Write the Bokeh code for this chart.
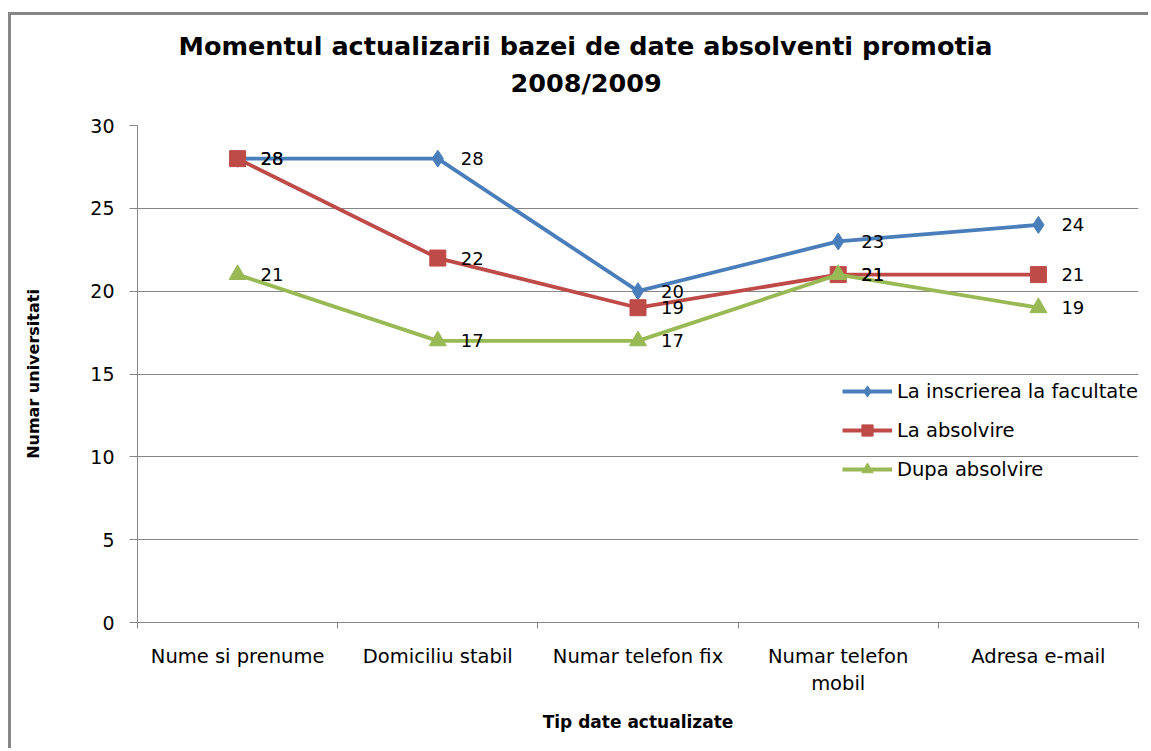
from bokeh.plotting import figure
from bokeh.models import FixedTicker, Title
from bokeh.core.properties import value
from bokeh.embed import file_html
from bokeh.resources import INLINE

categories = ["Nume si prenume", "Domiciliu stabil", "Numar telefon fix",
              "Numar telefon\nmobil", "Adresa e-mail"]
la_inscriere = [28, 28, 20, 23, 24]
la_absolvire = [28, 22, 19, 21, 21]
dupa_absolvire = [21, 17, 17, 21, 19]
series_names = ["La inscrierea la facultate", "La absolvire", "Dupa absolvire"]
y_ticks = [0, 5, 10, 15, 20, 25, 30]
title_lines = ["Momentul actualizarii bazei de date absolventi promotia", "2008/2009"]

xs = [i + 0.5 for i in range(len(categories))]
FONT = "DejaVu Sans"
GRAY = "#868686"

p = figure(width=1140, height=736, output_backend="svg", toolbar_location=None,
           x_range=(0, len(categories)), y_range=(0, 30),
           min_border_left=126, min_border_right=13, min_border_top=110,
           min_border_bottom=129, title=None)
p.styles = {"border-top": "3px solid #868686", "border-left": "3px solid #868686",
            "margin-top": "12px", "margin-left": "8px"}
p.outline_line_color = None
p.xgrid.grid_line_color = None
p.ygrid.grid_line_color = GRAY
p.ygrid.ticker = FixedTicker(ticks=y_ticks)

# x axis
p.xaxis.ticker = FixedTicker(ticks=xs, minor_ticks=list(range(len(categories) + 1)))
p.xaxis.major_label_overrides = {x: c for x, c in zip(xs, categories)}
p.xaxis.major_tick_line_color = None
p.xaxis.major_tick_out = 0
p.xaxis.major_tick_in = 0
p.xaxis.minor_tick_line_color = GRAY
p.xaxis.minor_tick_out = 6
p.xaxis.minor_tick_in = 0
p.xaxis.axis_line_color = GRAY
p.xaxis.major_label_standoff = 16
p.xaxis.major_label_text_font = FONT
p.xaxis.major_label_text_font_size = "19.5px"
p.xaxis.major_label_text_color = "black"
p.xaxis.axis_label = "Tip date actualizate"
p.xaxis.axis_label_text_font = FONT
p.xaxis.axis_label_text_font_style = "bold"
p.xaxis.axis_label_text_font_size = "17px"
p.xaxis.axis_label_text_color = "black"
p.xaxis.axis_label_standoff = 14

# y axis
p.yaxis.ticker = FixedTicker(ticks=y_ticks)
p.yaxis.minor_tick_line_color = None
p.yaxis.major_tick_line_color = GRAY
p.yaxis.major_tick_out = 8
p.yaxis.major_tick_in = 0
p.yaxis.axis_line_color = GRAY
p.yaxis.major_label_standoff = 15
p.yaxis.major_label_text_font = FONT
p.yaxis.major_label_text_font_size = "19px"
p.yaxis.major_label_text_color = "black"
p.yaxis.axis_label = "Numar universitati"
p.yaxis.axis_label_text_font = FONT
p.yaxis.axis_label_text_font_style = "bold"
p.yaxis.axis_label_text_font_size = "16px"
p.yaxis.axis_label_text_color = "black"
p.yaxis.axis_label_standoff = 44

colors = ["#4A7EBB", "#BE4B48", "#98B954"]
markers = ["diamond", "square", "triangle"]
sizes = [17, 16, 17]
data = [la_inscriere, la_absolvire, dupa_absolvire]

for vals, name, col, mk, sz in zip(data, series_names, colors, markers, sizes):
    p.line(xs, vals, line_color=col, line_width=3.8, legend_label=name)
    p.scatter(xs, vals, marker=mk, size=sz, fill_color=col, line_color=col,
              legend_label=name)

for vals in data:
    p.text(xs, vals, text=[str(v) for v in vals], x_offset=23,
           text_baseline="middle", text_align="left",
           text_font=value(FONT), text_font_size="18px", text_color="black")

# spacer between plot and title, then the two title lines
p.add_layout(Title(text=" ", standoff=22, text_font=FONT, text_font_size="1px"), "above")
p.add_layout(Title(text=title_lines[1], align="left", offset=373, standoff=5,
                   text_font=FONT, text_font_style="bold", text_font_size="25.5px",
                   text_color="black"), "above")
p.add_layout(Title(text=title_lines[0], align="left", offset=41, standoff=5,
                   text_font=FONT, text_font_style="bold", text_font_size="25.5px",
                   text_color="black"), "above")

lg = p.legend[0]
lg.location = (705, 139)
lg.background_fill_alpha = 0
lg.border_line_color = None
lg.padding = 0
lg.margin = 0
lg.spacing = 11
lg.glyph_width = 50
lg.glyph_height = 28
lg.label_height = 20
lg.label_standoff = 5
lg.label_text_font = FONT
lg.label_text_font_size = "19.5px"
lg.label_text_color = "black"

open("out.html", "w").write(file_html(p, INLINE))
